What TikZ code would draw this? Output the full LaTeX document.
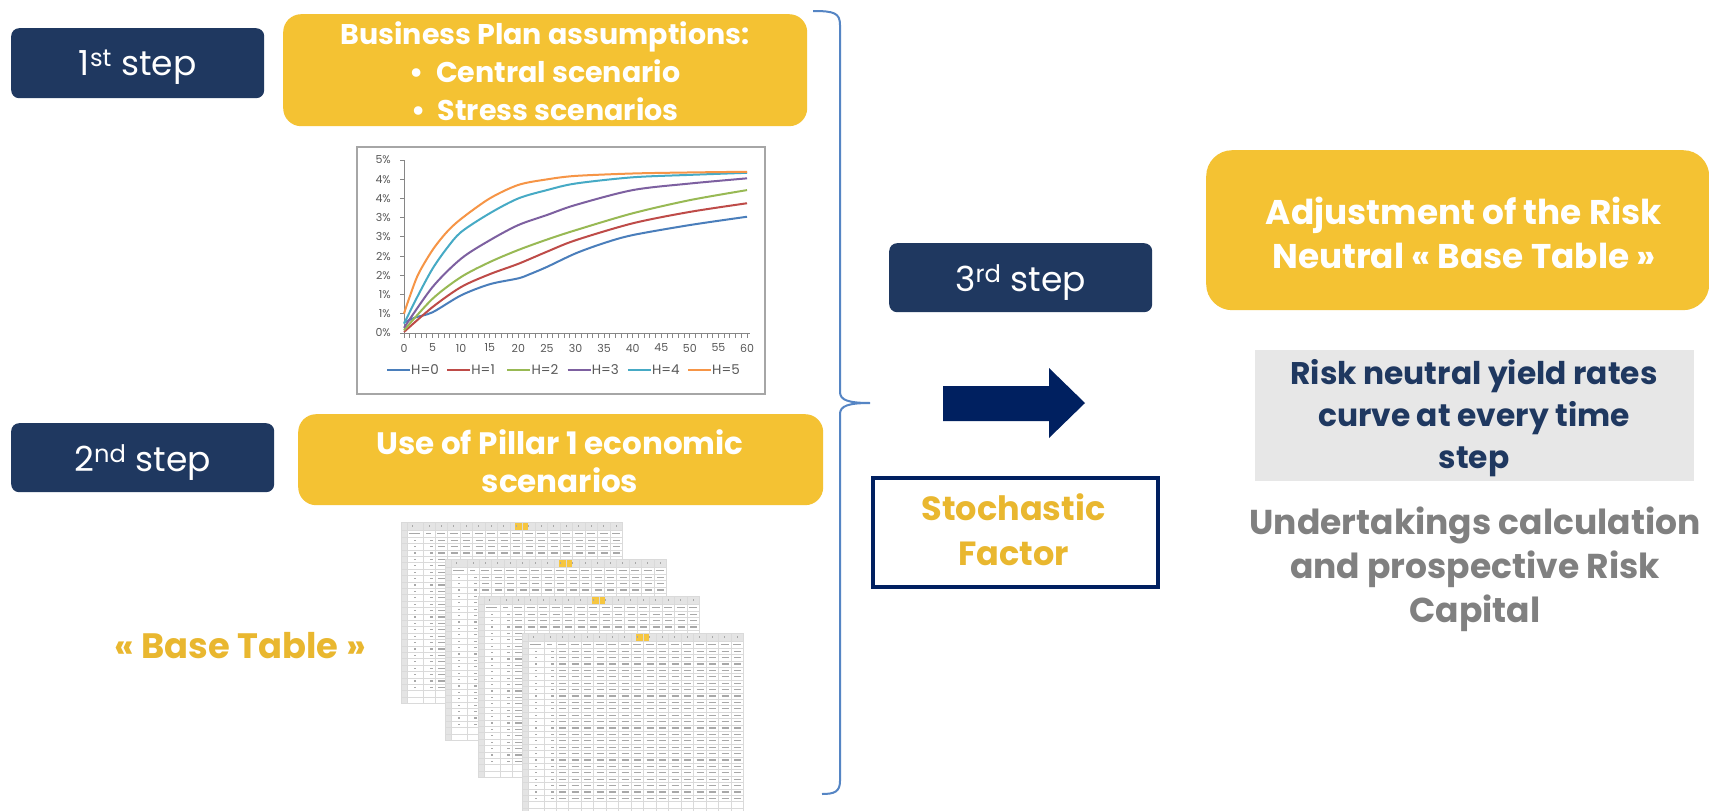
\documentclass[tikz,border=0pt]{standalone}
\usepackage{fontspec}
\setmainfont{Poppins}
\usetikzlibrary{calc}

\definecolor{navybox}{HTML}{1F3860}
\definecolor{navydeep}{HTML}{002060}
\definecolor{gold}{HTML}{F4C233}
\definecolor{goldtext}{HTML}{E9B72F}
\definecolor{greyfill}{HTML}{E7E7E7}
\definecolor{greytext}{HTML}{808080}
\definecolor{bracecol}{HTML}{5585C4}
\definecolor{chartframe}{HTML}{A6A6A6}
\definecolor{chartaxis}{HTML}{868686}
\definecolor{chartlabel}{HTML}{595959}
\definecolor{hzero}{HTML}{4A7EBB}
\definecolor{hone}{HTML}{BE4B48}
\definecolor{htwo}{HTML}{98B954}
\definecolor{hthree}{HTML}{7D60A0}
\definecolor{hfour}{HTML}{46AAC5}
\definecolor{hfive}{HTML}{F69546}
\definecolor{xlhead}{HTML}{E4E4E4}
\definecolor{xlsel}{HTML}{F6C640}
\definecolor{xlgrid}{HTML}{DADADA}
\definecolor{xlink}{HTML}{A8A8A8}

\newcommand\fsz[2]{\fontsize{#1}{#2}\selectfont}

% one small spreadsheet page: left, top, height
\newcommand\xlsheet[3]{%
  \begin{scope}[shift={(#1,#2)}]
    \fill[white] (0,0) rectangle (221,#3);
    \fill[xlhead] (0,0) rectangle (221,8);
    \fill[xlsel] (114,0) rectangle (127,8);
    \fill[xlhead] (0,8) rectangle (6,#3);
    \pgfmathtruncatemacro\nrows{(#3-15)/6.4}
    \foreach \r in {0,...,\nrows}{\draw[xlgrid,line width=0.6pt] (0,15+\r*6.4) -- (221,15+\r*6.4);}
    \draw[xlgrid,line width=0.6pt] (0,8) -- (221,8);
    \foreach \c in {6,22,34,46.5,...,215}{\draw[xlgrid,line width=0.6pt] (\c,0) -- (\c,#3);}
    \foreach \c in {9,26,38,50.5,...,215}{\fill[xlink] (\c+1.5,3) rectangle (\c+2.7,5.2);}
    \draw[xlink,line width=1.2pt] (8,11.5) -- (19,11.5);
    \draw[xlink,line width=1.2pt] (25,11.5) -- (30,11.5);
    \foreach \c in {34,46.5,...,215}{\draw[xlink,line width=1.2pt] (\c+2,11.5) -- (\c+10,11.5);}
    \pgfmathtruncatemacro\ndata{\nrows-1}
    \foreach \r in {1,...,\ndata}{%
      \pgfmathsetmacro\yy{15+(\r-0.5)*6.4}
      \draw[xlink,line width=1.3pt] (13,\yy) -- (15,\yy);
      \draw[xlink,line width=1.3pt] (29,\yy) -- (32,\yy);
      \foreach \c in {34,46.5,...,215}{\draw[xlink,line width=1.3pt] (\c+3,\yy) -- (\c+10,\yy);}
    }
    \draw[xlgrid,line width=0.8pt] (0,0) rectangle (221,#3);
  \end{scope}}

\begin{document}
\begin{tikzpicture}[x=1pt,y=-1pt,
  stepbox/.style={fill=navybox, rounded corners=8pt, text=white, inner sep=0pt,
    anchor=north west, text depth=0pt, font=\fsz{34.5}{40}},
  goldbox/.style={fill=gold, rounded corners=18pt, inner sep=0pt, anchor=north west},
  boxtext/.style={text=white, font=\bfseries\fsz{28.5}{38}, align=center, inner sep=0pt},
  curve/.style={line width=2pt, line join=round},
  axislab/.style={text=chartlabel, font=\fsz{11}{13}, inner sep=0pt}]
\useasboundingbox (0,0) rectangle (1709,811);
\fill[white] (0,0) rectangle (1709,811);

% ---- step 1 ----
\node[stepbox, minimum width=253pt, minimum height=70pt] (step1) at (11,28) {1\textsuperscript{st} step};
\node[goldbox, minimum width=524pt, minimum height=112pt] (plan) at (283,14) {};
\node[boxtext] (plantext) at (545,71) {Business Plan assumptions:\\
  •\ \ Central scenario\\ •\ \ Stress scenarios};

% ---- yield curve chart ----
\node[draw=chartframe, line width=1.5pt, fill=white, anchor=north west, inner sep=0pt,
  minimum width=408pt, minimum height=247pt] (chart) at (356,146) {};
\begin{scope}[shift={(404,333)}]
\begin{scope}[x=5.717pt, y=34.6pt]
  \draw[chartaxis, line width=1pt] (0,0) -- (0,5);
  \foreach \k/\lab in {0/0,1/1,2/1,3/2,4/2,5/3,6/3,7/4,8/4,9/5}{
    \draw[chartaxis, line width=1pt] (0,\k*5/9) -- ++(-4pt,0);
    \node[axislab, anchor=east] at ($(0,\k*5/9)+(-13pt,0)$) {\lab\%};
  }
  \draw[chartaxis, line width=1pt] (0,0) -- (60.6,0);
  \foreach \t in {0,...,60}{\draw[chartaxis, line width=0.8pt] (\t,0) -- ++(0,-5pt);}
  \foreach \t in {0,5,...,60}{\node[axislab] at ($(\t,0)+(0,-15pt)$) {\t};}
  \draw[hzero,curve] plot[smooth] coordinates {(0,0.3) (2,0.45) (5,0.6) (10,1.09) (15,1.41) (20,1.58) (22,1.7) (25,1.91) (30,2.3) (35,2.6) (40,2.83) (50,3.12) (60,3.36)};
  \draw[hone,curve] plot[smooth] coordinates {(0,0.03) (5,0.75) (10,1.33) (15,1.7) (20,2.0) (25,2.35) (30,2.68) (40,3.17) (50,3.5) (60,3.75)};
  \draw[htwo,curve] plot[smooth] coordinates {(0,0.08) (5,0.99) (10,1.62) (15,2.05) (20,2.4) (25,2.7) (30,2.97) (40,3.46) (50,3.84) (60,4.13)};
  \draw[hthree,curve] plot[smooth] coordinates {(0,0.15) (5,1.33) (10,2.15) (15,2.68) (20,3.12) (25,3.41) (30,3.7) (40,4.13) (50,4.32) (60,4.47)};
  \draw[hfour,curve] plot[smooth] coordinates {(0,0.27) (2.5,1.1) (5,1.86) (7.5,2.45) (10,2.92) (15,3.46) (20,3.89) (25,4.13) (30,4.32) (40,4.5) (50,4.57) (60,4.63)};
  \draw[hfive,curve] plot[smooth] coordinates {(0,0.56) (1,1.05) (2.5,1.7) (5,2.4) (7.5,2.92) (10,3.3) (15,3.89) (20,4.28) (25,4.44) (30,4.54) (40,4.61) (50,4.64) (60,4.66)};
\end{scope}
\end{scope}
\foreach \i/\col in {0/hzero,1/hone,2/htwo,3/hthree,4/hfour,5/hfive}{
  \draw[\col, line width=2pt] (387+60.2*\i,370) -- (410+60.2*\i,370);
  \node[anchor=west, inner sep=0pt, text=chartlabel, font=\fsz{13.5}{15}] at (411+60.2*\i,370) {H=\i};
}

% ---- step 2 ----
\node[stepbox, minimum width=263pt, minimum height=69pt] (step2) at (11,423) {2\textsuperscript{nd} step};
\node[goldbox, minimum width=525pt, minimum height=91pt] (pillar) at (298,414) {};
\node[boxtext, font=\bfseries\fsz{31}{38}] (pillartext) at (560,461) {Use of Pillar 1 economic\\scenarios};

% ---- scenario tables ----
\xlsheet{401}{522}{181}
\xlsheet{445}{559}{181}
\xlsheet{478}{596}{181}
\xlsheet{522}{633}{178}
\node[text=goldtext, font=\bfseries\fsz{35.3}{44}] (basetable) at (240,646) {« Base Table »};

% ---- brace gathering steps 1 and 2 ----
\coordinate (bracetop) at (813,11);
\coordinate (bracetip) at (870,403);
\coordinate (bracebot) at (822,794);
\draw[bracecol, line width=2pt] (bracetop) .. controls (834,11) and (840,13) .. (840,25)
  -- (840,392) .. controls (840,400) and (848,403) .. (bracetip)
  .. controls (848,403) and (840,406) .. (840,414)
  -- (840,781) .. controls (840,792) and (834,794) .. (bracebot);

% ---- step 3 ----
\node[stepbox, minimum width=263pt, minimum height=69pt] (step3) at (889,243) {3\textsuperscript{rd} step};
\fill[navydeep] (943,386) -- (1049,386) -- (1049,368) -- (1085,403) -- (1049,438) -- (1049,421) -- (943,421) -- cycle;
\node[draw=navydeep, line width=4pt, fill=white, anchor=north west, inner sep=0pt,
  minimum width=285pt, minimum height=109pt] (stoch) at (871,476) {};
\node[text=goldtext, font=\bfseries\fsz{33.5}{45}, align=center] (stochtext) at (1013.5,530) {Stochastic\\Factor};

% ---- results ----
\node[goldbox, rounded corners=26pt, minimum width=503pt, minimum height=160pt] (adjust) at (1206,150) {};
\node[boxtext, font=\bfseries\fsz{34.3}{44}] (adjusttext) at (1464,233) {Adjustment of the Risk\\Neutral « Base Table »};
\node[fill=greyfill, anchor=north west, inner sep=0pt, minimum width=439pt, minimum height=131pt] (curvebox) at (1255,350) {};
\node[text=navybox, font=\bfseries\fsz{31.3}{42}, align=center, inner sep=0pt] (curvetext) at (1474,418) {Risk neutral yield rates\\curve at every time\\step};
\node[text=greytext, font=\bfseries\fsz{34.5}{44}, align=center, inner sep=0pt] (capital) at (1475,569) {Undertakings calculation\\and prospective Risk\\Capital};
\end{tikzpicture}
\end{document}
